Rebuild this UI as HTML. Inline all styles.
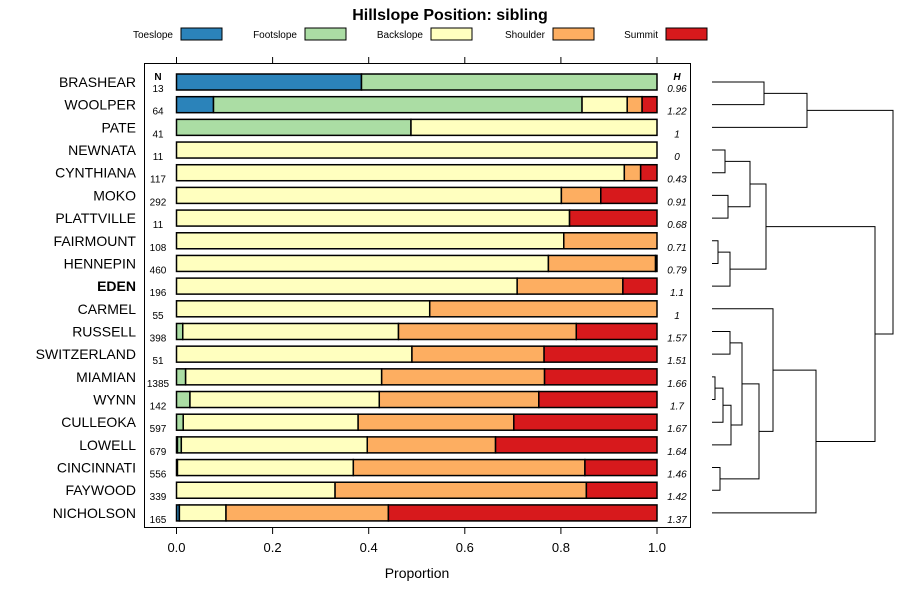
<!DOCTYPE html>
<html><head><meta charset="utf-8"><style>
body{margin:0;background:#fff;}
svg{font-family:"Liberation Sans",sans-serif;display:block}
</style></head><body>
<svg id="c" width="900" height="600"></svg>
<script>
const names=["BRASHEAR","WOOLPER","PATE","NEWNATA","CYNTHIANA","MOKO","PLATTVILLE","FAIRMOUNT","HENNEPIN","EDEN","CARMEL","RUSSELL","SWITZERLAND","MIAMIAN","WYNN","CULLEOKA","LOWELL","CINCINNATI","FAYWOOD","NICHOLSON"];
const nVals=[13,64,41,11,117,292,11,108,460,196,55,398,51,1385,142,597,679,556,339,165];
const hVals=["0.96","1.22","1","0","0.43","0.91","0.68","0.71","0.79","1.1","1","1.57","1.51","1.66","1.7","1.67","1.64","1.46","1.42","1.37"];
const categories=["Toeslope","Footslope","Backslope","Shoulder","Summit"];
const toeslope=[0.385,0.077,0,0,0,0,0,0,0,0,0,0,0,0,0,0,0.002,0,0,0.006];
const footslope=[0.615,0.767,0.488,0,0,0,0,0,0,0,0,0.013,0,0.019,0.028,0.014,0.008,0.002,0,0];
const backslope=[0,0.094,0.512,1,0.932,0.801,0.818,0.806,0.774,0.709,0.527,0.449,0.49,0.408,0.394,0.364,0.387,0.366,0.33,0.097];
const shoulder=[0,0.031,0,0,0.034,0.082,0,0.194,0.223,0.22,0.473,0.37,0.275,0.339,0.332,0.324,0.267,0.482,0.523,0.338];
const summit=[0,0.031,0,0,0.034,0.117,0.182,0,0.003,0.071,0,0.168,0.235,0.234,0.246,0.298,0.336,0.15,0.147,0.559];
const xTicks=[0,0.2,0.4,0.6,0.8,1];
const colors=["#2b83ba","#abdda4","#ffffbf","#fdae61","#d7191c"];
const series=[toeslope,footslope,backslope,shoulder,summit];
// dendrogram merges: [childA, childB, height]; negative = leaf row index (-(i+1)), positive = merge index+1
const merges=[[-1,-2,764],[1,-3,807],[-4,-5,725],[-6,-7,728],[3,4,750],[-8,-9,718],[6,-10,730],[5,7,766],[-12,-13,730],[-14,-15,715],[10,-16,723],[11,-17,731],[9,12,742],[-18,-19,720],[13,14,759],[-11,15,773],[16,-20,816],[8,17,875],[2,18,893]];

const NS="http://www.w3.org/2000/svg";
const svg=document.getElementById('c');
function el(t,a,txt,parent){const e=document.createElementNS(NS,t);for(const k in a)e.setAttribute(k,a[k]);if(txt!==undefined)e.textContent=txt;(parent||svg).appendChild(e);return e;}
const x=v=>176.5+v*480.5;
const y=i=>82+i*22.68;

let t=el('text',{x:450,y:20,'text-anchor':'middle','font-size':16,'font-weight':'bold'},'Hillslope Position: sibling');


const lx=[[173,181],[297,305],[423,431],[545,553],[658,666]];
categories.forEach((c,i)=>{
 const g=el('g',{});
 
 
 el('text',{x:lx[i][0],y:38,'text-anchor':'end','font-size':10},c,g);
 el('rect',{x:lx[i][1],y:28,width:41,height:12,fill:colors[i],stroke:'#000','stroke-width':1},undefined,g);
});
const box=el('rect',{x:144.5,y:63.5,width:546,height:464,fill:'none',stroke:'#000','stroke-width':1});


xTicks.forEach(v=>{
 el('line',{x1:x(v),x2:x(v),y1:527.5,y2:534,stroke:'#000'});
 el('line',{x1:x(v),x2:x(v),y1:63.5,y2:57,stroke:'#000'});
 const tl=el('text',{x:x(v),y:552,'text-anchor':'middle','font-size':13},v.toFixed(1));
 
 
});
const xt=el('text',{x:417,y:578,'text-anchor':'middle','font-size':14},'Proportion');


el('text',{x:158,y:80,'text-anchor':'middle','font-size':10,'font-weight':'bold'},'N');
el('text',{x:677,y:80,'text-anchor':'middle','font-size':10,'font-weight':'bold','font-style':'italic'},'H');
names.forEach((n,i)=>{
 const cy=y(i);
 const lab=el('text',{x:136,y:cy+5,'text-anchor':'end','font-size':14,'font-weight':n==='EDEN'?'bold':'normal'},n);
 
 
 el('text',{x:158,y:cy+10,'text-anchor':'middle','font-size':10},String(nVals[i]));
 el('text',{x:677,y:cy+10,'text-anchor':'middle','font-size':10,'font-style':'italic'},hVals[i]);
 let cum=0;
 series.forEach((s,k)=>{
  if(s[i]<=0)return;
  const r=el('rect',{x:x(cum),y:cy-8,width:x(cum+s[i])-x(cum),height:16,fill:colors[k],stroke:'#000','stroke-width':1.5});
  
  
  cum+=s[i];
 });
});
// dendrogram
const pos=[];
function node(c){if(c<0)return{x:712,y:y(-c-1)};return pos[c-1];}
const dg=el('g',{stroke:'#000','stroke-width':1,fill:'none'});


merges.forEach(m=>{
 const a=node(m[0]),b=node(m[1]),h=m[2];
 el('path',{d:`M${a.x},${a.y}H${h}V${b.y}H${b.x}`},undefined,dg);
 pos.push({x:h,y:(a.y+b.y)/2});
});
</script>
</body></html>
